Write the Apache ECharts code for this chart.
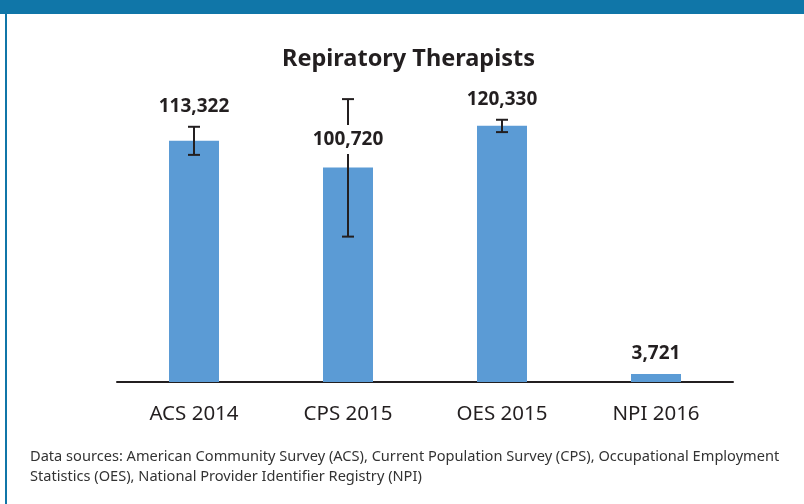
<!DOCTYPE html>
<html>
<head>
<meta charset="utf-8">
<title>Repiratory Therapists</title>
<script src="https://cdn.jsdelivr.net/npm/echarts@6/dist/echarts.min.js"></script>
<style>
  html, body { margin: 0; padding: 0; background: #fff; }
  #chart { width: 804px; height: 504px; }
</style>
</head>
<body>
<div id="chart"></div>
<script>
// chart data
var categories = ['ACS 2014', 'CPS 2015', 'OES 2015', 'NPI 2016'];
var counts = [113322, 100720, 120330, 3721];
// error bar ends, null = no error bar
var errLow = [106700, 68300, 117400, null];
var errHigh = [119900, 132900, 123200, null];

var ink = '#231f20';
var font = '"Noto Sans", "Open Sans", sans-serif';

var chart = echarts.init(document.getElementById('chart'));

function fmt(v) {
    return v.toLocaleString('en-US');
}

var option = {
    animation: false,
    title: {
        text: 'Repiratory Therapists',
        left: 277,
        top: 42,
        textStyle: { fontFamily: font, fontSize: 23.5, fontWeight: 'bold', color: ink }
    },
    grid: { left: 117, right: 71, top: 84, bottom: 122 },
    xAxis: {
        type: 'category',
        data: categories,
        axisLine: { lineStyle: { color: ink, width: 2 } },
        axisTick: { show: false },
        axisLabel: { fontFamily: font, fontSize: 20.5, color: ink, margin: 22 }
    },
    yAxis: {
        type: 'value',
        min: 0,
        max: 140000,
        show: false
    },
    graphic: [
        { type: 'rect', left: 0, top: 0, shape: { width: 804, height: 14 }, style: { fill: '#1076a8' } },
        { type: 'rect', left: 5, top: 14, shape: { width: 2, height: 490 }, style: { fill: '#1076a8' } },
        {
            type: 'text', left: 30, top: 447,
            style: {
                text: 'Data sources: American Community Survey (ACS), Current Population Survey (CPS), Occupational Employment\nStatistics (OES), National Provider Identifier Registry (NPI)',
                font: '14.6px ' + font, fill: '#333', lineHeight: 20
            }
        }
    ],
    series: [
        {
            type: 'bar',
            data: counts,
            barWidth: 50,
            itemStyle: { color: '#5b9bd5' },
            z: 2
        },
        {
            type: 'custom',
            z: 5,
            data: counts.map(function (v, i) { return [i, v]; }),
            renderItem: function (params, api) {
                var i = api.value(0);
                var top = api.coord([i, api.value(1)]);
                var x = top[0];
                var children = [];
                var labelY;
                var boxed = false;
                if (errLow[i] != null) {
                    var hi = api.coord([i, errHigh[i]])[1];
                    var lo = api.coord([i, errLow[i]])[1];
                    var ls = { stroke: ink, lineWidth: 2 };
                    children.push({ type: 'line', shape: { x1: x, y1: hi, x2: x, y2: lo }, style: ls });
                    children.push({ type: 'line', shape: { x1: x - 6, y1: hi, x2: x + 6, y2: hi }, style: ls });
                    children.push({ type: 'line', shape: { x1: x - 6, y1: lo, x2: x + 6, y2: lo }, style: ls });
                    if (top[1] - hi > 40) {
                        labelY = top[1] - 28;
                        boxed = true;
                    } else {
                        labelY = hi - 20;
                    }
                } else {
                    labelY = top[1] - 20;
                }
                children.push({
                    type: 'text',
                    style: {
                        text: fmt(counts[i]),
                        x: x, y: labelY,
                        align: 'center', verticalAlign: 'middle',
                        font: 'bold 19px ' + font,
                        fill: ink,
                        backgroundColor: boxed ? '#fff' : null,
                        padding: boxed ? [5, 3] : 0
                    }
                });
                return { type: 'group', children: children };
            }
        }
    ]
};

chart.setOption(option);
</script>
</body>
</html>
